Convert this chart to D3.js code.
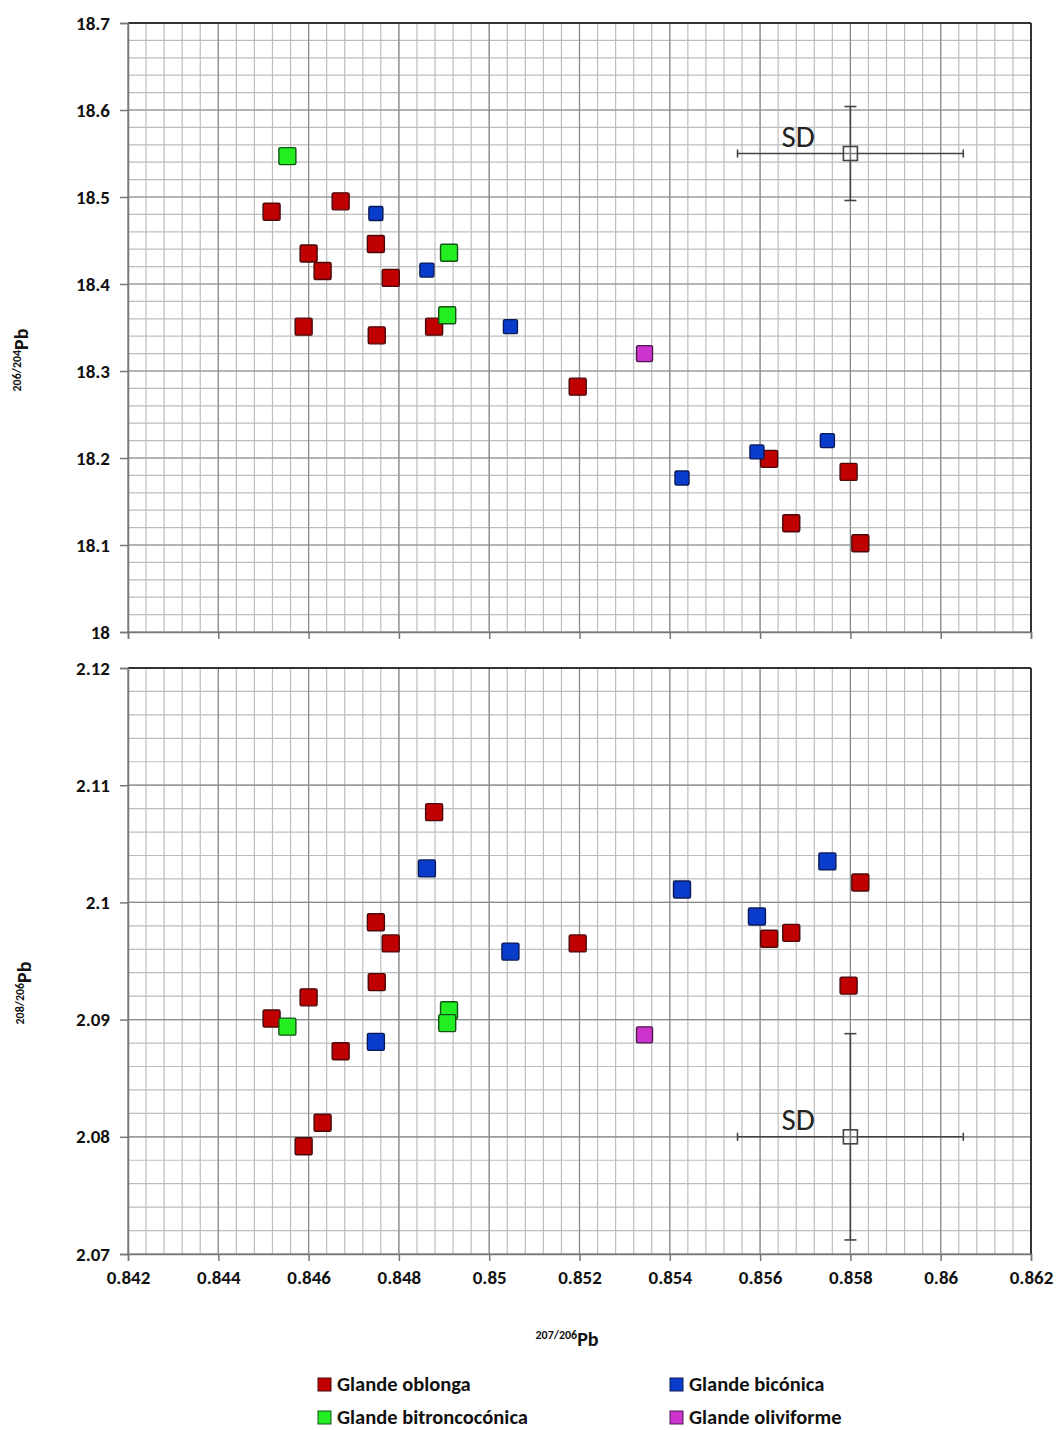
<!DOCTYPE html>
<html>
<head>
<meta charset="utf-8">
<script src="https://cdn.jsdelivr.net/npm/d3@7"></script>
<style>
  body { margin: 0; background: #fff; }
  svg { display: block; font-family: Carlito, Lato, "Open Sans", sans-serif; }
</style>
</head>
<body>
<svg id="chart" width="1057" height="1430"></svg>
<script>
// Lead isotope ratios of sling bullets (glandes), grouped by shape.
// x: 207Pb/206Pb, y1: 206Pb/204Pb, y2: 208Pb/206Pb
const oblongaX  = [0.84518, 0.84671, 0.84600, 0.84631, 0.84749, 0.84782, 0.84589, 0.84751, 0.84878, 0.85196, 0.85620, 0.85796, 0.85669, 0.85822];
const oblongaY1 = [18.483, 18.495, 18.435, 18.415, 18.446, 18.407, 18.351, 18.341, 18.351, 18.282, 18.199, 18.184, 18.125, 18.102];
const oblongaY2 = [2.0901, 2.0873, 2.0919, 2.0812, 2.0983, 2.0965, 2.0792, 2.0932, 2.1077, 2.0965, 2.0969, 2.0929, 2.0974, 2.1017];

const biconicaX  = [0.84749, 0.84862, 0.85047, 0.85427, 0.85593, 0.85749];
const biconicaY1 = [18.481, 18.416, 18.351, 18.177, 18.207, 18.220];
const biconicaY2 = [2.0881, 2.1029, 2.0958, 2.1011, 2.0988, 2.1035];

const bitroncoX  = [0.84553, 0.84911, 0.84907];
const bitroncoY1 = [18.547, 18.436, 18.364];
const bitroncoY2 = [2.0894, 2.0908, 2.0897];

const oliviX  = [0.85344];
const oliviY1 = [18.320];
const oliviY2 = [2.0887];

// Analytical standard deviation cross
const sdCenterX = 0.858, sdHalfX = 0.0025;
const sdCenterY1 = 18.55, sdHalfY1 = 0.054;
const sdCenterY2 = 2.08, sdHalfY2 = 0.0088;

const xTicks  = [0.842, 0.844, 0.846, 0.848, 0.85, 0.852, 0.854, 0.856, 0.858, 0.86, 0.862];
const y1Ticks = [18, 18.1, 18.2, 18.3, 18.4, 18.5, 18.6, 18.7];
const y2Ticks = [2.07, 2.08, 2.09, 2.1, 2.11, 2.12];

const series = [
  { name: "Glande oblonga",        x: oblongaX,  y1: oblongaY1,  y2: oblongaY2,  fill: "#c00000", stroke: "#4a0a0a", size: 17, sizeTop: 17 },
  { name: "Glande bicónica",       x: biconicaX, y1: biconicaY1, y2: biconicaY2, fill: "#0a3ccc", stroke: "#0a1a55", size: 17, sizeTop: 14 },
  { name: "Glande bitroncocónica", x: bitroncoX, y1: bitroncoY1, y2: bitroncoY2, fill: "#22ee22", stroke: "#145214", size: 17, sizeTop: 17 },
  { name: "Glande oliviforme",     x: oliviX,    y1: oliviY1,    y2: oliviY2,    fill: "#cc33cc", stroke: "#4a1a4a", size: 16, sizeTop: 16 }
];

const svg = d3.select("#chart");
const left = 128, right = 1031;
const tickFont = 19;

const x = d3.scaleLinear().domain([0.842, 0.862]).range([left, right]);
const y1 = d3.scaleLinear().domain([18, 18.7]).range([632, 23]);
const y2 = d3.scaleLinear().domain([2.07, 2.12]).range([1254, 668]);

function panel(y, ticks, minorStep, key, sizeKey, sd) {
  const g = svg.append("g");
  const [y0, yTop] = y.domain();
  const yb = y.range()[0], yt = y.range()[1];

  // minor grid
  const xMinor = d3.range(0, 51).map(i => 0.842 + i * 0.0004);
  const nY = Math.round((yTop - y0) / minorStep);
  const yMinor = d3.range(0, nY + 1).map(i => y0 + i * minorStep);
  g.selectAll(".vmin").data(xMinor).join("line")
    .attr("x1", d => x(d)).attr("x2", d => x(d)).attr("y1", yt).attr("y2", yb)
    .attr("stroke", "#bdbdbd").attr("stroke-width", 1.2);
  g.selectAll(".hmin").data(yMinor).join("line")
    .attr("x1", left).attr("x2", right).attr("y1", d => y(d)).attr("y2", d => y(d))
    .attr("stroke", "#bdbdbd").attr("stroke-width", 1.2);
  // major grid
  g.selectAll(".vmaj").data(xTicks).join("line")
    .attr("x1", d => x(d)).attr("x2", d => x(d)).attr("y1", yt).attr("y2", yb)
    .attr("stroke", "#8a8a8a").attr("stroke-width", 1.2);
  g.selectAll(".hmaj").data(ticks).join("line")
    .attr("x1", left).attr("x2", right).attr("y1", d => y(d)).attr("y2", d => y(d))
    .attr("stroke", "#8a8a8a").attr("stroke-width", 1.2);

  // frame: top and right dark, left and bottom axis lines
  g.append("line").attr("x1", left).attr("x2", right).attr("y1", yt).attr("y2", yt)
    .attr("stroke", "#333").attr("stroke-width", 2);
  g.append("line").attr("x1", right).attr("x2", right).attr("y1", yt).attr("y2", yb)
    .attr("stroke", "#333").attr("stroke-width", 2);

  // y axis
  const ay = g.append("g").attr("transform", `translate(${left},0)`)
    .call(d3.axisLeft(y).tickValues(ticks).tickSize(8).tickPadding(10).tickFormat(d3.format("~g")));
  ay.select(".domain").attr("stroke", "#777").attr("stroke-width", 1.5);
  ay.selectAll(".tick line").attr("stroke", "#777").attr("stroke-width", 1.5);
  ay.selectAll(".tick text").attr("font-size", tickFont).attr("font-weight", "bold").attr("fill", "#111")
    .attr("font-family", "Carlito, Lato, sans-serif");

  // x axis ticks (labels only under the lower panel)
  const ax = g.append("g").attr("transform", `translate(0,${yb})`)
    .call(d3.axisBottom(x).tickValues(xTicks).tickSize(7).tickPadding(10).tickFormat(d3.format("~g")));
  ax.select(".domain").attr("stroke", "#777").attr("stroke-width", 1.5);
  ax.selectAll(".tick line").attr("stroke", "#777").attr("stroke-width", 1.5);
  ax.selectAll(".tick text").attr("font-size", tickFont).attr("font-weight", "bold").attr("fill", "#111")
    .attr("font-family", "Carlito, Lato, sans-serif")
    .attr("opacity", key === "y2" ? 1 : 0);

  // SD cross
  const sdG = g.append("g").attr("stroke", "#444").attr("stroke-width", 1.6).attr("fill", "none");
  const cx = x(sd.cx), cy = y(sd.cy);
  sdG.append("line").attr("x1", x(sd.cx - sd.hx)).attr("x2", x(sd.cx + sd.hx)).attr("y1", cy).attr("y2", cy);
  sdG.append("line").attr("x1", cx).attr("x2", cx).attr("y1", y(sd.cy - sd.hy)).attr("y2", y(sd.cy + sd.hy));
  [sd.cx - sd.hx, sd.cx + sd.hx].forEach(v =>
    sdG.append("line").attr("x1", x(v)).attr("x2", x(v)).attr("y1", cy - 4).attr("y2", cy + 4));
  [sd.cy - sd.hy, sd.cy + sd.hy].forEach(v =>
    sdG.append("line").attr("x1", cx - 6).attr("x2", cx + 6).attr("y1", y(v)).attr("y2", y(v)));
  sdG.append("rect").attr("x", cx - 7).attr("y", cy - 7).attr("width", 14).attr("height", 14)
    .attr("fill", "#fff").attr("fill-opacity", 0.3);
  g.append("text").attr("x", cx - 69).attr("y", cy - 7).text("SD")
    .attr("font-size", 31).attr("fill", "#222").attr("font-family", "Carlito, 'Open Sans', sans-serif");

  // data markers
  series.forEach(s => {
    const pts = s.x.map((v, i) => ({ x: v, y: s[key][i] }));
    const sz = s[sizeKey];
    g.append("g").selectAll("rect").data(pts).join("rect")
      .attr("x", d => x(d.x) - sz / 2).attr("y", d => y(d.y) - sz / 2)
      .attr("width", sz).attr("height", sz).attr("rx", 1.5)
      .attr("fill", s.fill).attr("stroke", s.stroke).attr("stroke-width", 1.4);
  });
}

panel(y1, y1Ticks, 0.02, "y1", "sizeTop", { cx: sdCenterX, hx: sdHalfX, cy: sdCenterY1, hy: sdHalfY1 });
panel(y2, y2Ticks, 0.002, "y2", "size", { cx: sdCenterX, hx: sdHalfX, cy: sdCenterY2, hy: sdHalfY2 });

// axis titles with superscript mass numbers
function isoLabel(xp, yp, sup, rotate) {
  const t = svg.append("text")
    .attr("transform", `translate(${xp},${yp})` + (rotate ? " rotate(-90)" : ""))
    .attr("text-anchor", "middle").attr("font-weight", "bold").attr("fill", "#111")
    .attr("font-family", "Carlito, Lato, sans-serif");
  t.append("tspan").attr("font-size", 12).attr("dy", -7).text(sup);
  t.append("tspan").attr("font-size", 20).attr("dy", 7).text("Pb");
}
isoLabel(28, 360, "206/204", true);
isoLabel(31, 993, "208/206", true);
isoLabel(567, 1346, "207/206", false);

// legend
const legendItems = [
  { s: series[0], lx: 318, ly: 1384 },
  { s: series[1], lx: 670, ly: 1384 },
  { s: series[2], lx: 318, ly: 1417 },
  { s: series[3], lx: 670, ly: 1417 }
];
const lg = svg.append("g");
legendItems.forEach(it => {
  lg.append("rect").attr("x", it.lx).attr("y", it.ly - 6).attr("width", 13).attr("height", 13)
    .attr("fill", it.s.fill).attr("stroke", it.s.stroke).attr("stroke-width", 1);
  lg.append("text").attr("x", it.lx + 19).attr("y", it.ly + 7).text(it.s.name)
    .attr("font-size", 20.5).attr("font-weight", "bold").attr("fill", "#111")
    .attr("font-family", "Carlito, Lato, sans-serif");
});
</script>
</body>
</html>
